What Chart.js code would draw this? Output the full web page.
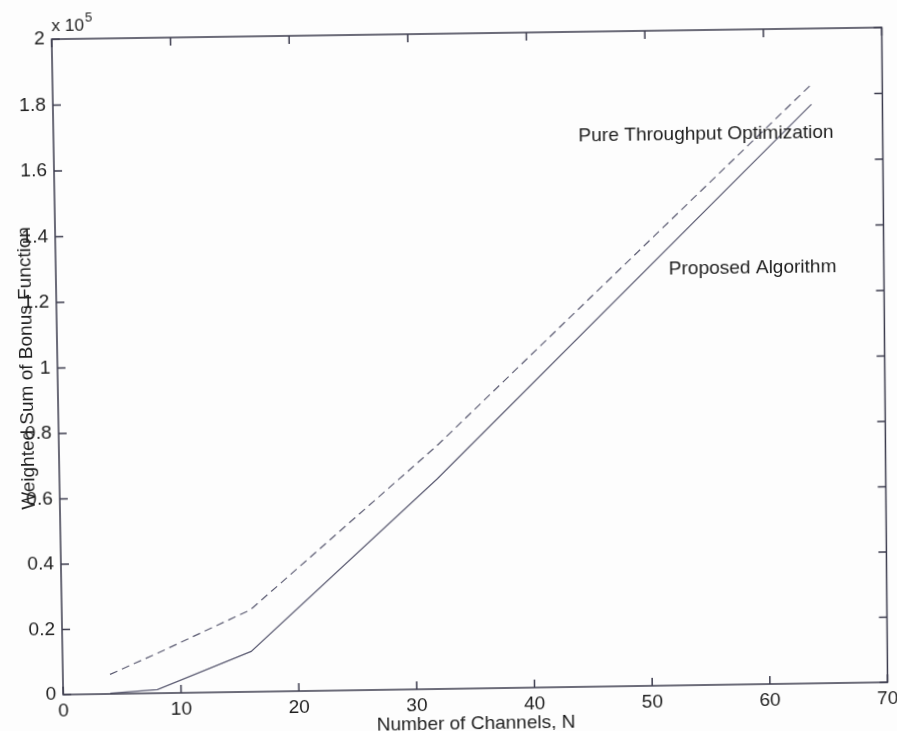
<!DOCTYPE html>
<html>
<head>
<meta charset="utf-8">
<script src="https://cdn.jsdelivr.net/npm/chart.js@4"></script>
<style>
  html, body { margin: 0; padding: 0; background: #fdfdfd; overflow: hidden; }
  #chart { display: block; transform-origin: 0 0; }
</style>
</head>
<body>
<canvas id="chart" width="897" height="731"></canvas>
<script>
// number of channels N
const channels = [4, 8, 16, 32, 64];
// weighted sum of bonus function
const proposed = [200, 1100, 12400, 64500, 177000];
const pureThroughput = [6000, 12200, 25200, 74600, 183000];

const xTicks = [0, 10, 20, 30, 40, 50, 60, 70];
const yTicks = [0, 20000, 40000, 60000, 80000, 100000, 120000, 140000, 160000, 180000, 200000];

const curveNames = ['Proposed Algorithm', 'Pure Throughput Optimization'];
// where each curve name sits (data units, left end of the baseline)
const curveNotes = [
  { text: curveNames[1], x: 44.3, y: 166600 },
  { text: curveNames[0], x: 51.8, y: 125900 }
];

// the printed page sits slightly askew: plot box corners TL, TR, BR, BL on the page
const pageCorners = [[51.7, 39.2], [881.7, 27.5], [887.5, 682.2], [63.2, 694.6]];

const FONT = '"Liberation Sans", Arial, sans-serif';
const textColor = '#1e1e1e';
const axisColor = '#3c3c4e';
const lineColor = '#5b5b72';

const pts = ys => channels.map((n, i) => ({ x: n, y: ys[i] }));

// 4-point projective map, solved as an 8x8 linear system
function homography(src, dst) {
  const A = [], b = [];
  for (let i = 0; i < 4; i++) {
    const [x, y] = src[i], [u, v] = dst[i];
    A.push([x, y, 1, 0, 0, 0, -u * x, -u * y]); b.push(u);
    A.push([0, 0, 0, x, y, 1, -v * x, -v * y]); b.push(v);
  }
  for (let c = 0; c < 8; c++) {
    let p = c;
    for (let r = c + 1; r < 8; r++) if (Math.abs(A[r][c]) > Math.abs(A[p][c])) p = r;
    [A[c], A[p]] = [A[p], A[c]]; [b[c], b[p]] = [b[p], b[c]];
    for (let r = 0; r < 8; r++) {
      if (r === c) continue;
      const f = A[r][c] / A[c][c];
      for (let k = c; k < 8; k++) A[r][k] -= f * A[c][k];
      b[r] -= f * b[c];
    }
  }
  return b.map((v, i) => v / A[i][i]);
}

// box with inward ticks on all four sides, the x10^5 factor and the curve names
const frame = {
  id: 'frame',
  afterDatasetsDraw(chart) {
    const { ctx, chartArea: a, scales: { x, y } } = chart;
    ctx.save();
    ctx.strokeStyle = axisColor;
    ctx.lineWidth = 1.5;
    ctx.strokeRect(a.left, a.top, a.right - a.left, a.bottom - a.top);
    ctx.beginPath();
    x.ticks.forEach(t => {
      const px = x.getPixelForValue(t.value);
      ctx.moveTo(px, a.bottom); ctx.lineTo(px, a.bottom - 8);
      ctx.moveTo(px, a.top); ctx.lineTo(px, a.top + 8);
    });
    y.ticks.forEach(t => {
      const py = y.getPixelForValue(t.value);
      ctx.moveTo(a.left, py); ctx.lineTo(a.left + 8, py);
      ctx.moveTo(a.right, py); ctx.lineTo(a.right - 8, py);
    });
    ctx.stroke();

    ctx.fillStyle = textColor;
    ctx.textBaseline = 'alphabetic';
    ctx.textAlign = 'left';
    ctx.font = '17px ' + FONT;
    ctx.fillText('x 10', a.left, a.top - 8);
    const w = ctx.measureText('x 10').width;
    ctx.font = '13px ' + FONT;
    ctx.fillText('5', a.left + w + 1, a.top - 17);

    ctx.font = '19px ' + FONT;
    curveNotes.forEach(n => {
      ctx.fillText(n.text, x.getPixelForValue(n.x), y.getPixelForValue(n.y));
    });
    ctx.restore();
  }
};

const canvas = document.getElementById('chart');
const chart = new Chart(canvas, {
  type: 'line',
  data: {
    datasets: [
      {
        label: curveNames[0],
        data: pts(proposed),
        borderColor: lineColor,
        borderWidth: 1.2,
        pointRadius: 0,
        tension: 0
      },
      {
        label: curveNames[1],
        data: pts(pureThroughput),
        borderColor: lineColor,
        borderWidth: 1.2,
        borderDash: [8, 5],
        pointRadius: 0,
        tension: 0
      }
    ]
  },
  options: {
    responsive: false,
    animation: false,
    devicePixelRatio: 1,
    layout: { padding: { top: 33, right: 12, left: 0, bottom: 0 } },
    plugins: { legend: { display: false }, tooltip: { enabled: false } },
    scales: {
      x: {
        type: 'linear',
        min: 0,
        max: 70,
        afterFit: s => { s.height = 43; },
        afterBuildTicks: s => { s.ticks = xTicks.map(v => ({ value: v })); },
        grid: { display: false, drawTicks: false },
        border: { display: false },
        ticks: { color: textColor, font: { family: FONT, size: 19 }, padding: 5, maxRotation: 0 },
        title: {
          display: true,
          text: 'Number of Channels, N',
          color: textColor,
          font: { family: FONT, size: 19, lineHeight: 1 },
          padding: { top: 0, bottom: -2 }
        }
      },
      y: {
        min: 0,
        max: 200000,
        afterFit: s => { s.width = 58; },
        afterBuildTicks: s => { s.ticks = yTicks.map(v => ({ value: v })); },
        grid: { display: false, drawTicks: false },
        border: { display: false },
        ticks: {
          color: textColor,
          font: { family: FONT, size: 19 },
          padding: 7,
          callback: v => String(parseFloat((v / 1e5).toFixed(1)))
        },
        title: {
          display: true,
          text: 'Weighted Sum of Bonus Function',
          color: textColor,
          font: { family: FONT, size: 19, lineHeight: 1 },
          padding: { top: 18.5, bottom: 0 }
        }
      }
    }
  },
  plugins: [frame]
});

// tilt the finished canvas so its plot box lands on the page corners
const a = chart.chartArea;
const src = [[a.left, a.top], [a.right, a.top], [a.right, a.bottom], [a.left, a.bottom]];
const [h0, h1, h2, h3, h4, h5, h6, h7] = homography(src, pageCorners);
canvas.style.transform =
  `matrix3d(${h0},${h3},0,${h6},${h1},${h4},0,${h7},0,0,1,0,${h2},${h5},0,1)`;
</script>
</body>
</html>
